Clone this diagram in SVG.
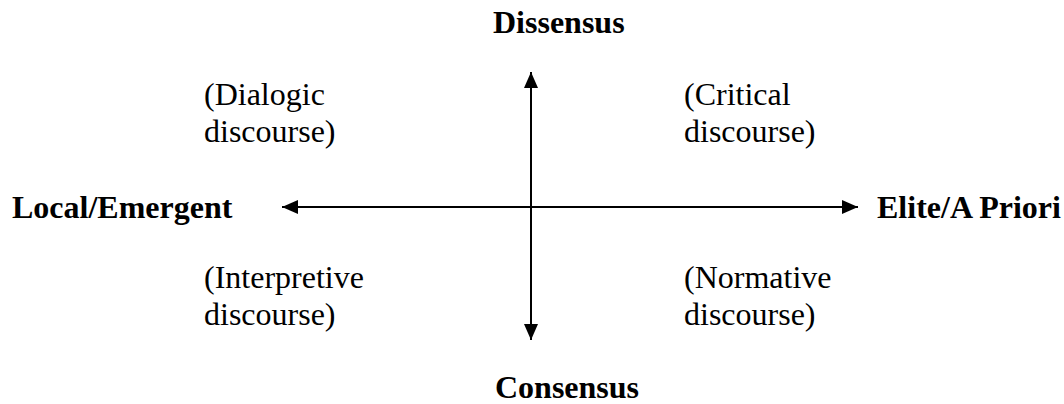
<svg xmlns="http://www.w3.org/2000/svg" width="1064" height="404" viewBox="0 0 1064 404">
  <style>
    .axis { font-family: "Liberation Serif", "Times New Roman", serif; font-size: 32px; font-weight: bold; fill: #000; }
    .quad { font-family: "Liberation Serif", "Times New Roman", serif; font-size: 32px; fill: #000; }
    .conn { stroke: #000; stroke-width: 2; fill: none; }
  </style>
  <defs>
    <marker id="ah" viewBox="0 0 16 14" refX="16" refY="7" markerWidth="16" markerHeight="14" markerUnits="userSpaceOnUse" orient="auto-start-reverse">
      <path d="M0,0 L16,7 L0,14 Z" fill="#000"/>
    </marker>
  </defs>
  <rect width="1064" height="404" fill="#fff"/>
  <g id="connectors">
    <line class="conn" x1="531" y1="72" x2="531" y2="340" marker-start="url(#ah)" marker-end="url(#ah)"/>
    <line class="conn" x1="282" y1="207" x2="858" y2="207" marker-start="url(#ah)" marker-end="url(#ah)"/>
  </g>
  <g id="dissensus"><text class="axis" x="493" y="33">Dissensus</text></g>
  <g id="consensus"><text class="axis" x="495" y="398">Consensus</text></g>
  <g id="local-emergent"><text class="axis" x="12" y="218">Local/Emergent</text></g>
  <g id="elite-a-priori"><text class="axis" x="877" y="218">Elite/A Priori</text></g>
  <g id="dialogic"><text class="quad" x="204" y="105">(Dialogic</text><text class="quad" x="204" y="142">discourse)</text></g>
  <g id="critical"><text class="quad" x="684" y="105">(Critical</text><text class="quad" x="684" y="142">discourse)</text></g>
  <g id="interpretive"><text class="quad" x="204" y="288">(Interpretive</text><text class="quad" x="204" y="325">discourse)</text></g>
  <g id="normative"><text class="quad" x="684" y="288">(Normative</text><text class="quad" x="684" y="325">discourse)</text></g>
</svg>
